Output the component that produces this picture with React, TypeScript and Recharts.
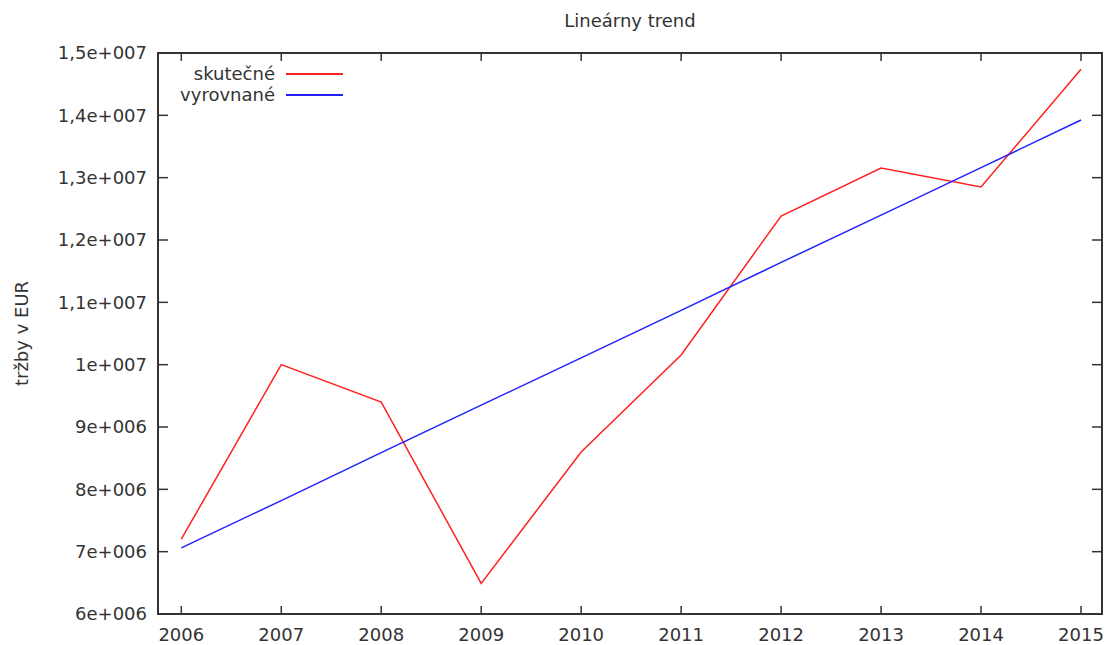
import React from 'react';
import { LineChart, Line, XAxis, YAxis } from 'recharts';

const years = [2006, 2007, 2008, 2009, 2010, 2011, 2012, 2013, 2014, 2015];
const actual = [7200000, 10000000, 9400000, 6490000, 8600000, 10155000, 12385000, 13155000, 12850000, 14740000];
const trend = [7060000, 7820000, 8590000, 9350000, 10110000, 10870000, 11640000, 12400000, 13160000, 13925000];

const yTicks = [6000000, 7000000, 8000000, 9000000, 10000000, 11000000, 12000000, 13000000, 14000000, 15000000];
const yTickLabels = ['6e+006', '7e+006', '8e+006', '9e+006', '1e+007', '1,1e+007', '1,2e+007', '1,3e+007', '1,4e+007', '1,5e+007'];

const seriesNames = ['skutečné', 'vyrovnané'];
const seriesColors = ['#ff2020', '#2020ff'];
const title = 'Lineárny trend';
const yTitle = 'tržby v EUR';

const X_DOMAIN = [2005.767, 2015.21];
const Y_DOMAIN = [6000000, 15000000];

const FONT = '"DejaVu Sans", Verdana, sans-serif';
const FS = 18;
const TEXT = '#333';
const AXIS = '#333';

// plot box
const W = 1109;
const H = 645;
const LEFT = 158;
const TOP = 53;
const RIGHT = 7;
const BOTTOM = 31;
const PLOT_W = W - LEFT - RIGHT;
const PLOT_H = H - TOP - BOTTOM;

const X_MARGIN = 14;
const Y_MARGIN = 11;

const data = years.map((year, i) => ({ year, actual: actual[i], trend: trend[i] }));

const fmtY = (v: number) => {
  const idx = yTicks.indexOf(v);
  return idx >= 0 ? yTickLabels[idx] : String(v);
};

// gnuplot style: ticks point into the plot, mirrored on the opposite side
const XTick = (props: any) => {
  const { x, y, payload } = props;
  const base = y - X_MARGIN;
  return (
    <g>
      <line x1={x} x2={x} y1={base} y2={base - 8} stroke={AXIS} strokeWidth={1.5} />
      <line x1={x} x2={x} y1={base - PLOT_H} y2={base - PLOT_H + 8} stroke={AXIS} strokeWidth={1.5} />
      <text x={x} y={y} dy="0.71em" textAnchor="middle" fill={TEXT} fontSize={FS} fontFamily={FONT}>
        {payload.value}
      </text>
    </g>
  );
};

const YTick = (props: any) => {
  const { x, y, payload } = props;
  const base = x + Y_MARGIN;
  return (
    <g>
      <line x1={base} x2={base + 10} y1={y} y2={y} stroke={AXIS} strokeWidth={1.5} />
      <line x1={base + PLOT_W} x2={base + PLOT_W - 10} y1={y} y2={y} stroke={AXIS} strokeWidth={1.5} />
      <text x={x} y={y} dy="0.355em" textAnchor="end" fill={TEXT} fontSize={FS} fontFamily={FONT}>
        {fmtY(payload.value)}
      </text>
    </g>
  );
};

const App: React.FC = () => {
  return (
    <div style={{ position: 'absolute', left: 0, top: 0, width: W, height: H, background: '#fff', fontFamily: FONT }}>
      <div
        style={{
          position: 'absolute', left: LEFT, top: 9, width: PLOT_W, textAlign: 'center',
          fontSize: FS, lineHeight: '24px', color: TEXT,
        }}
      >
        {title}
      </div>

      <LineChart width={W} height={H} data={data} margin={{ top: TOP, right: RIGHT, bottom: 0, left: 0 }}>
        <XAxis
          dataKey="year"
          type="number"
          domain={X_DOMAIN}
          allowDataOverflow
          ticks={years}
          interval={0}
          height={BOTTOM}
          axisLine={false}
          tickSize={0}
          tickMargin={X_MARGIN}
          tickLine={false}
          tick={<XTick />}
        />
        <YAxis
          type="number"
          domain={Y_DOMAIN}
          allowDataOverflow
          ticks={yTicks}
          interval={0}
          width={LEFT}
          axisLine={false}
          tickSize={0}
          tickMargin={Y_MARGIN}
          tickLine={false}
          tick={<YTick />}
          label={{
            value: yTitle, angle: -90, position: 'insideLeft', offset: 22,
            style: { textAnchor: 'middle', fill: TEXT, fontSize: FS, fontFamily: FONT },
          }}
        />
        <Line
          dataKey="actual"
          name={seriesNames[0]}
          stroke={seriesColors[0]}
          strokeWidth={1.5}
          dot={false}
          activeDot={false}
          isAnimationActive={false}
        />
        <Line
          dataKey="trend"
          name={seriesNames[1]}
          stroke={seriesColors[1]}
          strokeWidth={1.5}
          dot={false}
          activeDot={false}
          isAnimationActive={false}
        />
      </LineChart>

      {/* plot frame */}
      <div
        style={{
          position: 'absolute', zIndex: 1, pointerEvents: 'none',
          left: LEFT - 1, top: TOP - 1, width: PLOT_W + 2, height: PLOT_H + 2,
          boxSizing: 'border-box', border: `2px solid ${AXIS}`,
        }}
      />

      <div style={{ position: 'absolute', left: 120, top: 63, fontSize: FS, color: TEXT }}>
        {seriesNames.map((name, i) => (
          <div key={name} style={{ display: 'flex', alignItems: 'center', height: 21 }}>
            <span style={{ width: 155, textAlign: 'right' }}>{name}</span>
            <span style={{ display: 'inline-block', marginLeft: 11, width: 57, height: 2, background: seriesColors[i] }} />
          </div>
        ))}
      </div>
    </div>
  );
};

export default App;
